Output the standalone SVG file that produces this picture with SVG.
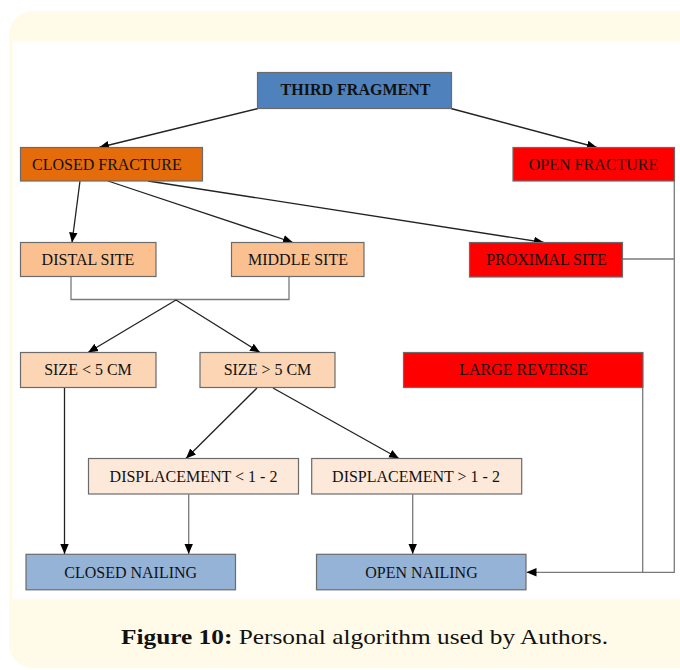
<svg xmlns="http://www.w3.org/2000/svg" width="680" height="670" viewBox="0 0 680 670">
<style>
.box{stroke:#6b6b6b;stroke-width:1.2}
.t{font-family:"Liberation Serif","Times New Roman",serif;font-size:16px;fill:#111;text-anchor:middle}
.c{fill:none;stroke:#222;stroke-width:1.3}
.g{fill:none;stroke:#7a7a7a;stroke-width:1.3}
.cap{font-family:"Liberation Serif",serif;font-size:22px;fill:#111}
</style>
<defs>
<marker id="ah" markerUnits="userSpaceOnUse" markerWidth="10" markerHeight="10" viewBox="0 0 10 10" refX="10" refY="5" orient="auto">
<path d="M0,0.8 L10,5 L0,9.2 z" fill="#000"/>
</marker>
</defs>
<rect x="9" y="11" width="720" height="657" rx="24" fill="#fffbe8"/>
<rect x="13" y="41" width="667" height="558" fill="#ffffff"/>

<g id="connectors">
<line class="c" x1="258" y1="108.5" x2="99" y2="147.5" marker-end="url(#ah)"/>
<line class="c" x1="451" y1="108.5" x2="597" y2="147.5" marker-end="url(#ah)"/>
<line class="c" x1="80" y1="181" x2="72" y2="242.5" marker-end="url(#ah)"/>
<line class="c" x1="108" y1="181" x2="293" y2="242.5" marker-end="url(#ah)"/>
<line class="c" x1="148" y1="181" x2="544" y2="242.5" marker-end="url(#ah)"/>
<polyline class="g" points="71,277 71,299.5 289,299.5 289,277"/>
<line class="c" x1="176" y1="300" x2="88" y2="352.5" marker-end="url(#ah)"/>
<line class="c" x1="176" y1="300" x2="260" y2="352.5" marker-end="url(#ah)"/>
<line class="c" x1="64.5" y1="388" x2="64.5" y2="554" marker-end="url(#ah)"/>
<line class="c" x1="257" y1="388" x2="186" y2="458.5" marker-end="url(#ah)"/>
<line class="c" x1="273" y1="388" x2="399" y2="458.5" marker-end="url(#ah)"/>
<line class="g" x1="188.7" y1="494.5" x2="188.7" y2="554" marker-end="url(#ah)"/>
<line class="g" x1="412.7" y1="494.5" x2="412.7" y2="554" marker-end="url(#ah)"/>
<polyline class="g" points="622.7,259 674.3,259"/>
<polyline class="g" points="674.3,181 674.3,572.3 526.5,572.3" marker-end="url(#ah)"/>
<polyline class="g" points="642.7,388 642.7,572.3"/>
</g>

<g id="third-fragment"><rect class="box" x="257.5" y="72.5" width="194" height="36" fill="#4f81bd"/><text class="t" x="355.5" y="94.5" font-weight="bold">THIRD FRAGMENT</text></g>
<g id="closed-fracture"><rect class="box" x="20.5" y="147.5" width="182" height="33.5" fill="#e46c0a"/><text class="t" x="32" y="169.5" style="text-anchor:start">CLOSED FRACTURE</text></g>
<g id="open-fracture"><rect class="box" x="513" y="147.5" width="161.5" height="33.5" fill="#ff0000"/><text class="t" x="593.5" y="169.5">OPEN FRACTURE</text></g>
<g id="distal-site"><rect class="box" x="20.5" y="242.5" width="135.5" height="34" fill="#fac090"/><text class="t" x="88" y="264.5">DISTAL SITE</text></g>
<g id="middle-site"><rect class="box" x="231.5" y="242.5" width="132.5" height="34" fill="#fac090"/><text class="t" x="298" y="264.5">MIDDLE SITE</text></g>
<g id="proximal-site"><rect class="box" x="469.5" y="242.5" width="153" height="34.5" fill="#ff0000"/><text class="t" x="546.5" y="265">PROXIMAL SITE</text></g>
<g id="size-lt-5"><rect class="box" x="20.5" y="352.5" width="135.5" height="35" fill="#fcd5b4"/><text class="t" x="88" y="375">SIZE &lt; 5 CM</text></g>
<g id="size-gt-5"><rect class="box" x="200" y="352.5" width="135" height="35" fill="#fcd5b4"/><text class="t" x="267.5" y="375">SIZE &gt; 5 CM</text></g>
<g id="large-reverse"><rect class="box" x="403.5" y="352.5" width="239.5" height="35" fill="#ff0000"/><text class="t" x="523.5" y="375">LARGE REVERSE</text></g>
<g id="displacement-lt"><rect class="box" x="88.5" y="458.5" width="210" height="35.5" fill="#fde9d9"/><text class="t" x="193.5" y="481.5">DISPLACEMENT &lt; 1 - 2</text></g>
<g id="displacement-gt"><rect class="box" x="311.7" y="458.5" width="210" height="35.5" fill="#fde9d9"/><text class="t" x="416" y="481.5">DISPLACEMENT &gt; 1 - 2</text></g>
<g id="closed-nailing"><rect class="box" x="26" y="554.3" width="209.5" height="35.5" fill="#95b3d7"/><text class="t" x="130.7" y="577.5">CLOSED NAILING</text></g>
<g id="open-nailing"><rect class="box" x="316.5" y="554.3" width="209.5" height="35.5" fill="#95b3d7"/><text class="t" x="421.5" y="577.5">OPEN NAILING</text></g>

<text class="cap" x="121" y="644" textLength="487" lengthAdjust="spacingAndGlyphs"><tspan font-weight="bold">Figure 10:</tspan> Personal algorithm used by Authors.</text>
</svg>
